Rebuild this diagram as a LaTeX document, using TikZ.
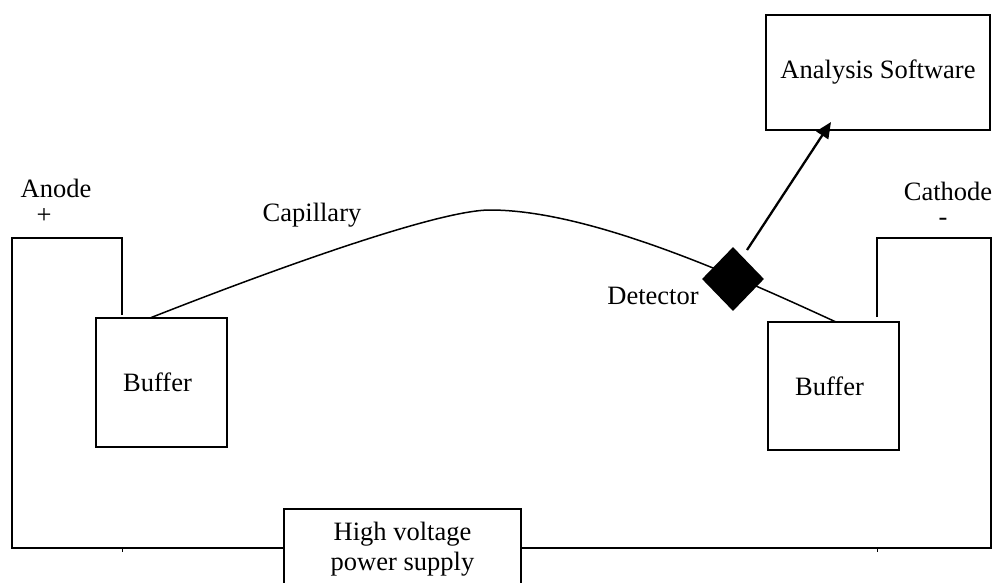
\documentclass[tikz,border=0pt]{standalone}
\usepackage{fontspec}
\setmainfont{Liberation Serif}
\usetikzlibrary{arrows.meta,shapes.geometric}
\begin{document}
\begin{tikzpicture}[x=1pt,y=-1pt,
  box/.style={draw,line width=1.7pt,inner sep=0pt,font=\fontsize{26.5}{30}\selectfont},
  lbl/.style={inner sep=0pt,font=\fontsize{26.5}{30}\selectfont},
  wire/.style={line width=1.7pt},
  capline/.style={line width=1.5pt},
  arr/.style={line width=2.3pt,-{Triangle[length=16pt,width=14pt]}}]
\useasboundingbox (0,0) rectangle (993,582);
\clip (0,0) rectangle (993,582);
% boxes
\node[box,minimum width=224pt,minimum height=115pt] (soft) at (878,72.5) {Analysis Software};
\node[box,minimum width=131pt,minimum height=129pt] (bufL) at (161.5,382.5) {\hspace*{-8pt}Buffer};
\node[box,minimum width=131pt,minimum height=128pt] (bufR) at (833.5,386) {\hspace*{-8pt}Buffer};
\node[box,minimum width=237pt,minimum height=80pt,align=center] (hv) at (402.5,549) {High voltage\\power supply};
% labels
\node[lbl] (anode) at (56,188) {Anode};
\node[lbl] (plus) at (44,216) {+};
\node[lbl] (cathode) at (948,191) {Cathode};
\node[lbl] (minus) at (943,222) {-};
\node[lbl] (caplbl) at (312,215) {Capillary};
\node[lbl] (detlbl) at (653,296) {Detector};
% coordinates
\coordinate (lw0) at (122,315);
\coordinate (lw1) at (122,238);
\coordinate (lw2) at (12,238);
\coordinate (lw3) at (12,548);
\coordinate (rw0) at (877,317);
\coordinate (rw1) at (877,238);
\coordinate (rw2) at (991,238);
\coordinate (rw3) at (991,548);
\coordinate (cs) at (150,318);
\coordinate (cpk) at (490,210);
\coordinate (ce) at (836,322);
\coordinate (a0) at (747,250);
\coordinate (a1) at (831,122);
% wires
\draw[wire] (lw0) -- (lw1) -- (lw2) -- (lw3) -- (hv.west |- lw3);
\draw[wire] (rw0) -- (rw1) -- (rw2) -- (rw3) -- (hv.east |- rw3);
\draw[line width=1pt] (122,548) -- (122,552);
\draw[line width=1pt] (877,548) -- (877,552);
% capillary
\draw[capline] (cs) .. controls (226,288) and (430,210) .. (cpk) .. controls (590,210) and (736,276) .. (ce);
% detector
\node[diamond,fill=black,inner sep=0pt,minimum width=62pt,minimum height=64pt] (det) at (733,279) {};
% arrow
\draw[arr] (a0) -- (a1);
\end{tikzpicture}
\end{document}
